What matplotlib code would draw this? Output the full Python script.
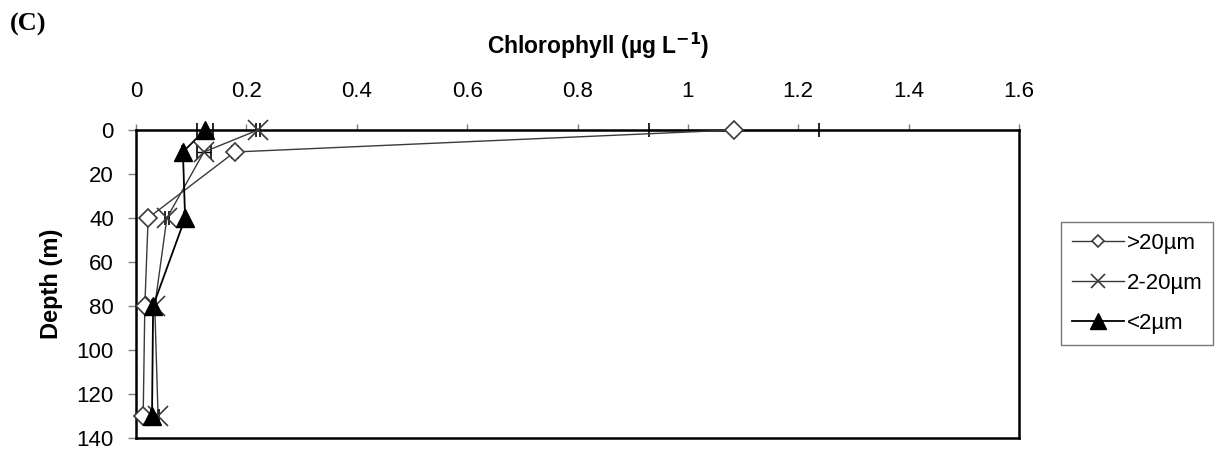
import matplotlib
matplotlib.use("Agg")
import matplotlib.pyplot as plt
from matplotlib.lines import Line2D

plt.rcParams['font.family'] = ['Liberation Sans', 'DejaVu Sans']

depth = [0, 10, 40, 80, 130]
large = [1.083, 0.179, 0.022, 0.016, 0.013]      # >20um
large_err = [0.154, 0.005, 0.003, 0.002, 0.001]
medium = [0.221, 0.123, 0.056, 0.034, 0.040]     # 2-20um
medium_err = [0.004, 0.012, 0.003, 0.002, 0.001]
small = [0.125, 0.085, 0.089, 0.031, 0.029]      # <2um
small_err = [0.014, 0.002, 0.002, 0.002, 0.001]
labels = ['>20µm', '2-20µm', '<2µm']
xticks = [0, 0.2, 0.4, 0.6, 0.8, 1, 1.2, 1.4, 1.6]
yticks = [0, 20, 40, 60, 80, 100, 120, 140]

fig = plt.figure(figsize=(12.27, 4.49), dpi=100)
ax = fig.add_axes([136/1227, 1-438/449, (1019-136)/1227, (438-130)/449])

gray = '#3a3a3a'
h1 = ax.errorbar(large, depth, xerr=large_err, color=gray, lw=1.0, marker='D', ms=9.5,
                 mfc='white', mec=gray, mew=1.2, ecolor='black', elinewidth=1.0,
                 capsize=4.7, capthick=1.2, clip_on=False, zorder=3)
h2 = ax.errorbar(medium, depth, xerr=medium_err, color=gray, lw=1.0, marker='x', ms=14,
                 mec=gray, mew=1.2, ecolor='black', elinewidth=1.0,
                 capsize=4.7, capthick=1.2, clip_on=False, zorder=3)
h3 = ax.errorbar(small, depth, xerr=small_err, color='black', lw=1.3, marker='^', ms=13,
                 mfc='black', mec='black', ecolor='black', elinewidth=1.0,
                 capsize=4.7, capthick=1.2, clip_on=False, zorder=4)
for h in (h1, h2, h3):
    for c in h[1]:
        c.set_clip_on(False)
    for c in h[2]:
        c.set_clip_on(False)

ax.set_xlim(0, 1.6)
ax.set_ylim(140, 0)
ax.xaxis.tick_top()
ax.set_xticks(xticks)
ax.set_xticklabels([f'{t:g}' for t in xticks])
ax.set_yticks(yticks)
ax.tick_params(axis='x', direction='out', length=4.5, width=1, color='#808080',
               pad=16, labelsize=16)
ax.tick_params(axis='y', direction='out', length=6, width=1, color='#808080',
               pad=10, labelsize=16)
for s in ax.spines.values():
    s.set_linewidth(1.8)
    s.set_color('black')

fig.text(598/1227, 1-54/449, 'Chlorophyll (µg L$^{\\mathbf{-1}}$)', fontsize=16.5,
         fontweight='bold', ha='center', va='baseline')
ax.set_ylabel('Depth (m)', fontsize=17, fontweight='bold', labelpad=10)

fig.text(10/1227, 1-24/449, '(C)', fontsize=19, fontweight='bold',
         family=['Liberation Serif', 'DejaVu Serif'], va='center', ha='left')

lh = [Line2D([], [], color=gray, lw=1.0, marker='D', ms=6, mfc='white', mec=gray, mew=1.2),
      Line2D([], [], color=gray, lw=1.0, marker='x', ms=10, mec=gray, mew=1.2),
      Line2D([], [], color='black', lw=1.3, marker='^', ms=11, mfc='black', mec='black')]
leg = fig.legend(handles=lh, labels=labels, loc='upper left',
                 bbox_to_anchor=(1061/1227, 1-222/449), frameon=True, fancybox=False,
                 edgecolor='#555555', fontsize=16, handlelength=2.35,
                 labelspacing=0.85, borderpad=0.5, handletextpad=0.1, borderaxespad=0)
leg.get_frame().set_linewidth(1.0)

fig.savefig('out.png', dpi=100)
